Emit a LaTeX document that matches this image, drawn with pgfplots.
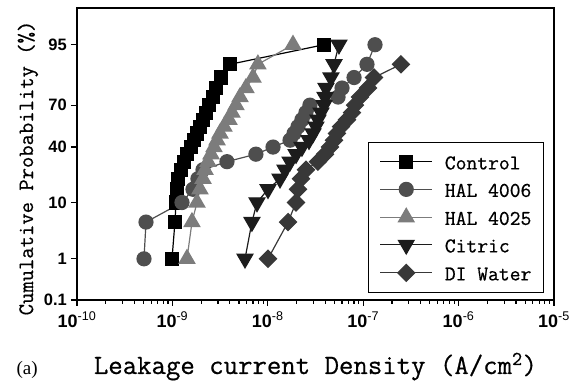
\documentclass[border=0pt]{standalone}
\usepackage{fontspec}
\setmainfont{Liberation Sans}
\newfontfamily\monofont[FakeBold=0.6]{Latin Modern Mono}
\newfontfamily\seriffont{Liberation Serif}
\usepackage{pgfplots}
\pgfplotsset{compat=1.18}
\usepackage{pgfplotstable}
\definecolor{cA}{HTML}{4E4E4E}
\definecolor{cB}{HTML}{7C7C7C}
\definecolor{cC}{HTML}{1C1C1C}
\definecolor{cD}{HTML}{383838}
\pgfplotsset{
  legend image code/.code={\draw[mark repeat=2,mark phase=2,#1] plot coordinates {(0pt,0pt) (26pt,0pt) (52pt,0pt)};}
}
% z = standard normal quantile of the cumulative probability
\pgfplotstableread{
J z
9.91e-10 -2.3263
1.064e-9 -1.6449
1.091e-9 -1.2816
1.117e-9 -1.0364
1.146e-9 -0.8416
1.230e-9 -0.6745
1.324e-9 -0.5244
1.422e-9 -0.3853
1.567e-9 -0.2533
1.683e-9 -0.1257
1.811e-9 0
1.945e-9 0.1257
2.094e-9 0.2533
2.249e-9 0.3853
2.421e-9 0.5244
2.667e-9 0.6745
2.864e-9 0.8416
3.228e-9 1.0364
4.018e-9 1.2816
3.882e-8 1.6449
}\control
\pgfplotstableread{
J z
5.04e-10 -2.3263
5.29e-10 -1.6449
1.261e-9 -1.2816
1.644e-9 -1.0364
1.853e-9 -0.8416
2.094e-9 -0.6745
3.733e-9 -0.5244
7.51e-9 -0.3853
1.135e-8 -0.2533
1.711e-8 -0.1257
1.884e-8 0
2.075e-8 0.1257
2.281e-8 0.2533
2.512e-8 0.3853
2.767e-8 0.5244
5.45e-8 0.6745
6.00e-8 0.8416
8.02e-8 1.0364
1.096e-7 1.2816
1.330e-7 1.6449
}\halA
\pgfplotstableread{
J z
1.422e-9 -2.3263
1.605e-9 -1.6449
1.811e-9 -1.2816
1.945e-9 -1.0364
2.094e-9 -0.8416
2.198e-9 -0.6745
2.360e-9 -0.5244
2.541e-9 -0.3853
2.729e-9 -0.2533
2.938e-9 -0.1257
3.155e-9 0
3.475e-9 0.1257
3.917e-9 0.2533
4.217e-9 0.3853
4.645e-9 0.5244
5.117e-9 0.6745
5.902e-9 0.8416
6.998e-9 1.0364
7.880e-9 1.2816
1.837e-8 1.6449
}\halB
\pgfplotstableread{
J z
5.77e-9 -2.3263
6.82e-9 -1.6449
7.71e-9 -1.2816
1.005e-8 -1.0364
1.343e-8 -0.8416
1.514e-8 -0.6745
1.711e-8 -0.5244
1.977e-8 -0.3853
2.281e-8 -0.2533
2.704e-8 -0.1257
2.979e-8 0
3.199e-8 0.1257
3.357e-8 0.2533
3.614e-8 0.3853
3.882e-8 0.5244
3.981e-8 0.6745
4.074e-8 0.8416
4.592e-8 1.0364
4.943e-8 1.2816
5.57e-8 1.6449
}\citric
\pgfplotstableread{
J z
1.005e-8 -2.3263
1.630e-8 -1.6449
1.977e-8 -1.2816
2.075e-8 -1.0364
2.229e-8 -0.8416
2.512e-8 -0.6745
3.357e-8 -0.5244
3.981e-8 -0.3853
4.487e-8 -0.2533
4.943e-8 -0.1257
5.31e-8 0
5.85e-8 0.1257
6.76e-8 0.2533
7.64e-8 0.3853
8.20e-8 0.5244
9.25e-8 0.6745
1.122e-7 0.8416
1.297e-7 1.0364
2.488e-7 1.2816
}\diwater
\begin{document}
\begin{tikzpicture}
\useasboundingbox (0,0) rectangle (581pt,382pt);
\begin{axis}[
  at={(77pt,82pt)}, anchor=south west,
  scale only axis, width=477pt, height=292pt,
  xmode=log, xmin=1e-10, xmax=1e-5,
  ymin=-3.0902, ymax=2.3263,
  xtick={1e-10,1e-9,1e-8,1e-7,1e-6,1e-5},
  xticklabels={\textbf{10}\textsuperscript{-10},\textbf{10}\textsuperscript{-9},\textbf{10}\textsuperscript{-8},\textbf{10}\textsuperscript{-7},\textbf{10}\textsuperscript{-6},\textbf{10}\textsuperscript{-5}},
  ytick={-3.0902,-2.3263,-1.2816,-0.2533,0.5244,1.6449},
  yticklabels={0.1,1,10,40,70,95},
  minor ytick={},
  tick align=outside,
  xtick pos=bottom, ytick pos=left,
  major tick length=6pt, minor tick length=4pt,
  every tick/.style={black, line width=1.2pt},
  axis line style={line width=1.5pt},
  xticklabel style={font=\fontsize{18}{18}\selectfont, inner sep=0pt, yshift=-6pt},
  yticklabel style={font=\fontsize{16.5}{16.5}\selectfont\bfseries, inner sep=0pt, xshift=-4pt},
  xlabel={\monofont\fontsize{28}{28}\selectfont Leakage current Density (A/cm\textsuperscript{2})},
  xlabel style={at={(axis description cs:0.5,0)}, anchor=base, yshift=-74pt},
  ylabel={\monofont\fontsize{22}{22}\selectfont Cumulative Probability (\%)},
  ylabel style={at={(axis description cs:-0.0922,0.452)}, anchor=base},
  legend cell align=left,
  legend style={at={(axis description cs:0.979,0.024)}, anchor=south east,
    draw=black, line width=1.2pt, font=\monofont\fontsize{21}{21}\selectfont,
    row sep=10.5pt, inner xsep=11pt, inner ysep=11pt,
    nodes={inner sep=1pt, text height=15pt, text depth=0pt},
    /tikz/every odd column/.append style={column sep=11pt}},
  clip=false,
]
\addplot[black, line width=1.2pt, mark=square*, mark size=6.5pt, mark options={solid, fill=black}] table[x=J,y=z]{\control};
\addlegendentry{Control}
\addplot[cA, line width=1.2pt, mark=*, mark size=7pt, mark options={solid, fill=cA}] table[x=J,y=z]{\halA};
\addlegendentry{HAL 4006}
\addplot[cB, line width=1.2pt, mark=triangle*, mark size=9pt, mark options={solid, fill=cB}] table[x=J,y=z]{\halB};
\addlegendentry{HAL 4025}
\addplot[cC, line width=1.2pt, mark=triangle*, mark size=9pt, mark options={solid, fill=cC, rotate=180}] table[x=J,y=z]{\citric};
\addlegendentry{Citric}
\addplot[cD, line width=1.2pt, mark=square*, mark size=6pt, mark options={solid, fill=cD, rotate=45}] table[x=J,y=z]{\diwater};
\addlegendentry{DI Water}
\end{axis}
\node[anchor=base west, font=\seriffont\fontsize{19}{19}\selectfont] at (13pt,7pt) {(a)};
\end{tikzpicture}
\end{document}
